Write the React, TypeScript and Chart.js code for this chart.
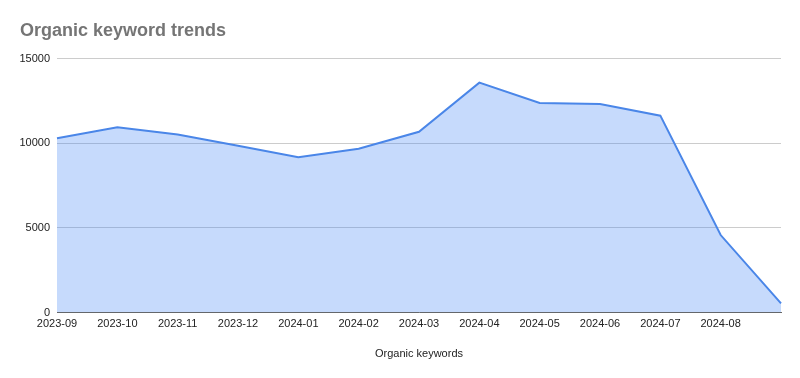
import React, { useEffect, useRef } from "react";
import { Chart, registerables } from "chart.js";

Chart.register(...registerables);

const months = [
  "2023-09", "2023-10", "2023-11", "2023-12", "2024-01", "2024-02",
  "2024-03", "2024-04", "2024-05", "2024-06", "2024-07", "2024-08", "",
];
const organicKeywords = [
  10300, 10950, 10520, 9850, 9180, 9680, 10680, 13580, 12380, 12320, 11630, 4580, 540,
];
const yTicks = [0, 5000, 10000, 15000];

export default function App() {
  const ref = useRef<HTMLCanvasElement | null>(null);
  useEffect(() => {
    document.body.style.margin = "0";
    const ctx = ref.current!;
    const chart = new Chart(ctx, {
      type: "line",
      data: {
        labels: months,
        datasets: [
          {
            label: "Organic keywords",
            data: organicKeywords,
            borderColor: "#4a86e8",
            backgroundColor: "rgba(66,133,244,0.3)",
            borderWidth: 2,
            pointRadius: 0,
            fill: "origin",
            tension: 0,
          },
        ],
      },
      options: {
        responsive: false,
        animation: false,
        layout: { padding: { left: 20, right: 19, top: 20, bottom: 17 } },
        plugins: {
          legend: { display: false },
          tooltip: { enabled: false },
          title: {
            display: true,
            text: "Organic keyword trends",
            align: "start",
            color: "#757575",
            font: { family: "'Liberation Sans', Arial, sans-serif", size: 18, weight: "bold" },
            padding: { top: 0, bottom: 17 },
          },
        },
        scales: {
          x: {
            offset: false,
            grid: { display: false, drawTicks: false },
            border: { display: true, color: "#666", width: 1 },
            ticks: {
              autoSkip: false,
              maxRotation: 0,
              minRotation: 0,
              padding: 5,
              color: "#222",
              font: { family: "'Liberation Sans', Arial, sans-serif", size: 11 },
            },
            title: {
              display: true,
              text: "Organic keywords",
              color: "#222",
              font: { family: "'Liberation Sans', Arial, sans-serif", size: 11 },
              padding: { top: 12, bottom: 0 },
            },
          },
          y: {
            min: 0,
            max: 15000,
            afterBuildTicks: (scale: any) => {
              scale.ticks = yTicks.map((v) => ({ value: v }));
            },
            afterFit: (scale: any) => {
              scale.width = 37;
            },
            grid: { color: "#cccccc", drawTicks: false },
            border: { display: false },
            ticks: {
              padding: 7,
              color: "#222",
              callback: (v: any) => String(v),
              font: { family: "'Liberation Sans', Arial, sans-serif", size: 11 },
            },
          },
        },
      },
    });
    return () => chart.destroy();
  }, []);
  return (
    <div style={{ position: "relative", width: 800, height: 378 }}>
      <canvas ref={ref} width={800} height={378} style={{ display: "block" }} />
    </div>
  );
}
